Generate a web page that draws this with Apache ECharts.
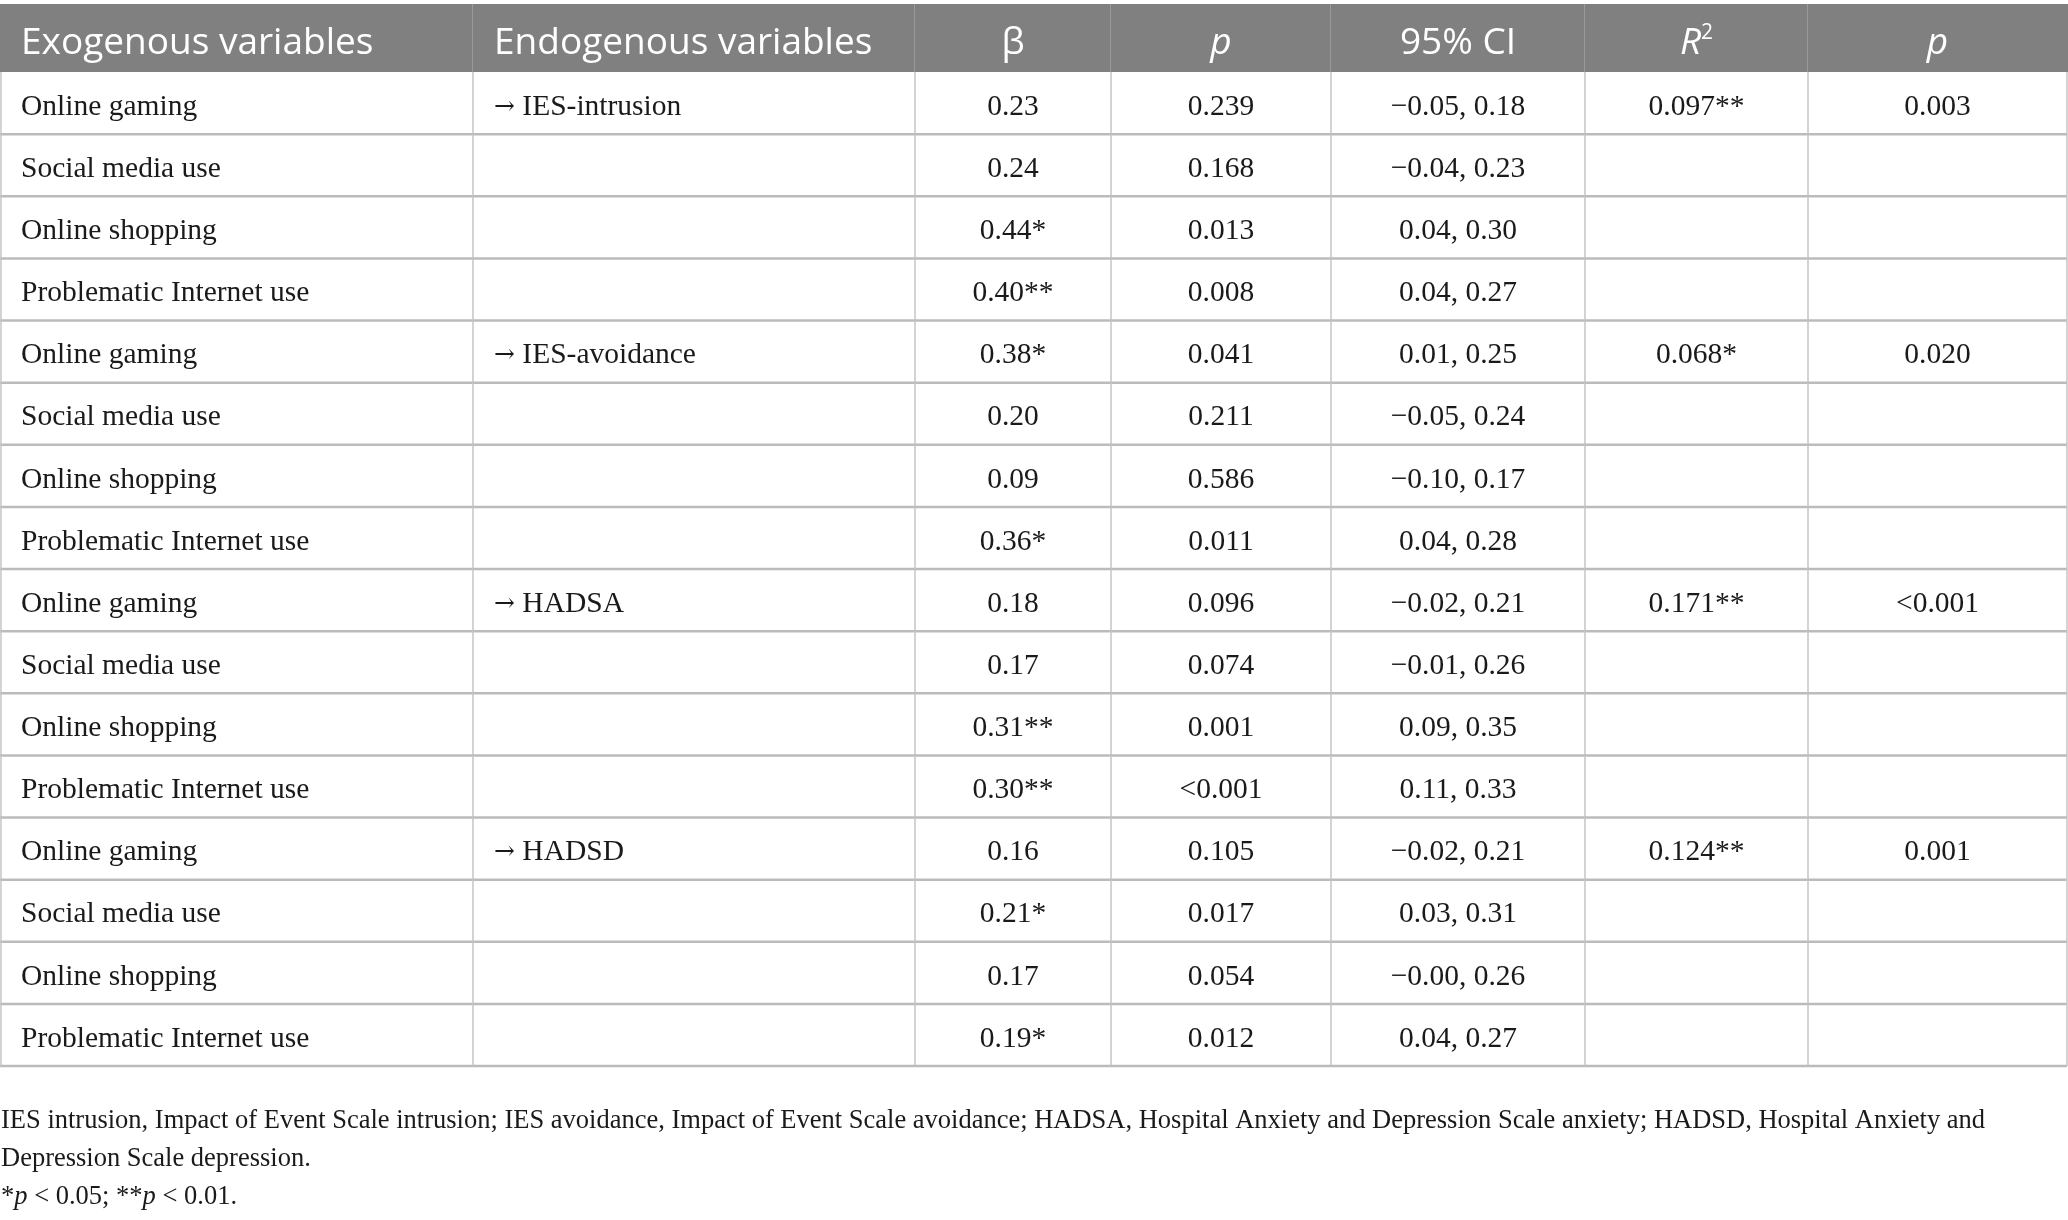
<!DOCTYPE html>
<html>
<head>
<meta charset="utf-8">
<title>Regression table</title>
<script src="https://cdn.jsdelivr.net/npm/echarts@6/dist/echarts.min.js"></script>
<style>html,body{margin:0;padding:0;background:#fff;}</style>
</head>
<body>
<div id="main" style="width:2068px;height:1220px;"></div>
<script type="text/javascript">

// table content
var headers = ['Exogenous variables', 'Endogenous variables', 'β', 'p', '95% CI', 'R2', 'p'];
var exogenous = ['Online gaming', 'Social media use', 'Online shopping', 'Problematic Internet use',
                 'Online gaming', 'Social media use', 'Online shopping', 'Problematic Internet use',
                 'Online gaming', 'Social media use', 'Online shopping', 'Problematic Internet use',
                 'Online gaming', 'Social media use', 'Online shopping', 'Problematic Internet use'];
var endogenous = ['→ IES-intrusion', '', '', '', '→ IES-avoidance', '', '', '',
                  '→ HADSA', '', '', '', '→ HADSD', '', '', ''];
var beta = ['0.23', '0.24', '0.44*', '0.40**', '0.38*', '0.20', '0.09', '0.36*',
            '0.18', '0.17', '0.31**', '0.30**', '0.16', '0.21*', '0.17', '0.19*'];
var pValues = ['0.239', '0.168', '0.013', '0.008', '0.041', '0.211', '0.586', '0.011',
               '0.096', '0.074', '0.001', '<0.001', '0.105', '0.017', '0.054', '0.012'];
var ci95 = ['−0.05, 0.18', '−0.04, 0.23', '0.04, 0.30', '0.04, 0.27',
            '0.01, 0.25', '−0.05, 0.24', '−0.10, 0.17', '0.04, 0.28',
            '−0.02, 0.21', '−0.01, 0.26', '0.09, 0.35', '0.11, 0.33',
            '−0.02, 0.21', '0.03, 0.31', '−0.00, 0.26', '0.04, 0.27'];
var r2 = ['0.097**', '', '', '', '0.068*', '', '', '', '0.171**', '', '', '', '0.124**', '', '', ''];
var r2p = ['0.003', '', '', '', '0.020', '', '', '', '<0.001', '', '', '', '0.001', '', '', ''];

var footnotes = [
    'IES intrusion, Impact of Event Scale intrusion; IES avoidance, Impact of Event Scale avoidance; HADSA, Hospital Anxiety and Depression Scale anxiety; HADSD, Hospital Anxiety and',
    'Depression Scale depression.',
    '{n|*}{i|p}{n| < 0.05; **}{i|p}{n| < 0.01.}'
];

// layout
var colEdges = [0, 473, 915, 1111, 1331, 1585, 1808, 2067];
var padLeft = 21;
var serif = '"Liberation Serif", "DejaVu Serif", serif';
var sans = '"Open Sans", "Noto Sans", sans-serif';

var columns = [exogenous, endogenous, beta, pValues, ci95, r2, r2p];
var rowNames = exogenous.map(function (d, i) { return 'row' + i; });

var cells = [];
for (var r = 0; r < exogenous.length; r++) {
    for (var c = 0; c < columns.length; c++) {
        cells.push([c, r]);
    }
}
var headCells = headers.map(function (h, c) { return [c, 0]; });

var bodyRich = {
    a: {fontFamily: '"DejaVu Serif", serif', fontSize: 25, fill: '#1a1a1a', color: '#1a1a1a'},
    n: {fontFamily: serif, fontSize: 29.5, fill: '#1a1a1a', color: '#1a1a1a'}
};

function cellBox(api) {
    var c = api.value(0), r = api.value(1);
    var p0 = api.coord([colEdges[c], r]);
    var p1 = api.coord([colEdges[c + 1], r]);
    var h = api.size([0, 1])[1];
    return {c: c, r: r, x0: p0[0], x1: p1[0], yc: p0[1], top: p0[1] - h / 2, bottom: p0[1] + h / 2};
}

function renderBody(params, api) {
    var b = cellBox(api);
    var kids = [];
    kids.push({type: 'line', shape: {x1: b.x0, y1: b.bottom, x2: b.x1, y2: b.bottom},
               style: {stroke: '#bbbbbb', lineWidth: 2.5}});
    kids.push({type: 'line', shape: {x1: b.x1, y1: b.top, x2: b.x1, y2: b.bottom},
               style: {stroke: '#c4c4c4', lineWidth: 1.5}});
    if (b.c === 0) {
        kids.push({type: 'line', shape: {x1: b.x0 + 1, y1: b.top, x2: b.x0 + 1, y2: b.bottom},
                   style: {stroke: '#c4c4c4', lineWidth: 1.5}});
    }
    var txt = columns[b.c][b.r];
    if (txt) {
        var left = b.c < 2;
        if (txt.charAt(0) === '→') {
            txt = '{a|→}{n|' + txt.slice(1) + '}';
        }
        kids.push({type: 'text', x: left ? b.x0 + padLeft : (b.x0 + b.x1) / 2, y: b.yc + 4,
                   style: {text: txt, rich: bodyRich, font: '29.5px ' + serif, fill: '#1a1a1a',
                           align: left ? 'left' : 'center', verticalAlign: 'middle',
                           textAlign: left ? 'left' : 'center', textVerticalAlign: 'middle'}});
    }
    return {type: 'group', children: kids};
}

function renderHead(params, api) {
    var b = cellBox(api);
    var kids = [];
    kids.push({type: 'rect', shape: {x: b.x0, y: b.top, width: b.x1 - b.x0 + 1, height: b.bottom - b.top},
               style: {fill: '#808080'}});
    if (b.c < headers.length - 1) {
        kids.push({type: 'line', shape: {x1: b.x1, y1: b.top, x2: b.x1, y2: b.bottom},
                   style: {stroke: '#a3a3a3', lineWidth: 1.5}});
    }
    var h = headers[b.c];
    var txt = h, rich = {};
    if (h === 'p') {
        txt = '{i|p}';
    } else if (h === 'R2') {
        txt = '{i|R}{s|2}';
    }
    rich.i = {fontStyle: 'italic', fontSize: 37, fontFamily: sans, fill: '#fff', color: '#fff'};
    rich.s = {fontSize: 21, fontFamily: sans, fill: '#fff', color: '#fff', padding: [0, 0, 19, 0]};
    var left = b.c < 2;
    kids.push({type: 'text', x: left ? b.x0 + padLeft : (b.x0 + b.x1) / 2, y: b.yc + 5,
               style: {text: txt, rich: rich, font: '37px ' + sans, fill: '#ffffff',
                       align: left ? 'left' : 'center', verticalAlign: 'middle',
                       textAlign: left ? 'left' : 'center', textVerticalAlign: 'middle'}});
    return {type: 'group', children: kids};
}

var xAxisBase = {type: 'value', min: colEdges[0], max: colEdges[colEdges.length - 1], show: false};

var option = {
    backgroundColor: '#ffffff',
    animation: false,
    grid: [
        {left: 0, width: 2067, top: 4, height: 68},
        {left: 0, width: 2067, top: 72, height: 994}
    ],
    xAxis: [
        Object.assign({gridIndex: 0}, xAxisBase),
        Object.assign({gridIndex: 1}, xAxisBase)
    ],
    yAxis: [
        {type: 'category', gridIndex: 0, data: ['header'], show: false},
        {type: 'category', gridIndex: 1, data: rowNames, inverse: true, show: false}
    ],
    series: [
        {type: 'custom', xAxisIndex: 0, yAxisIndex: 0, renderItem: renderHead, data: headCells, silent: true},
        {type: 'custom', xAxisIndex: 1, yAxisIndex: 1, renderItem: renderBody, data: cells, silent: true}
    ],
    graphic: footnotes.map(function (t, i) {
        return {
            type: 'text', left: 1, top: 1108 + i * 37.6,
            style: {
                text: t, font: '26.5px ' + serif, fill: '#1a1a1a',
                rich: {
                    n: {fontSize: 26.5, fontFamily: serif, fill: '#1a1a1a'},
                    i: {fontSize: 26.5, fontFamily: serif, fontStyle: 'italic', fill: '#1a1a1a'}
                }
            }
        };
    })
};

var myChart = echarts.init(document.getElementById('main'));
myChart.setOption(option);
</script>
</body>
</html>
